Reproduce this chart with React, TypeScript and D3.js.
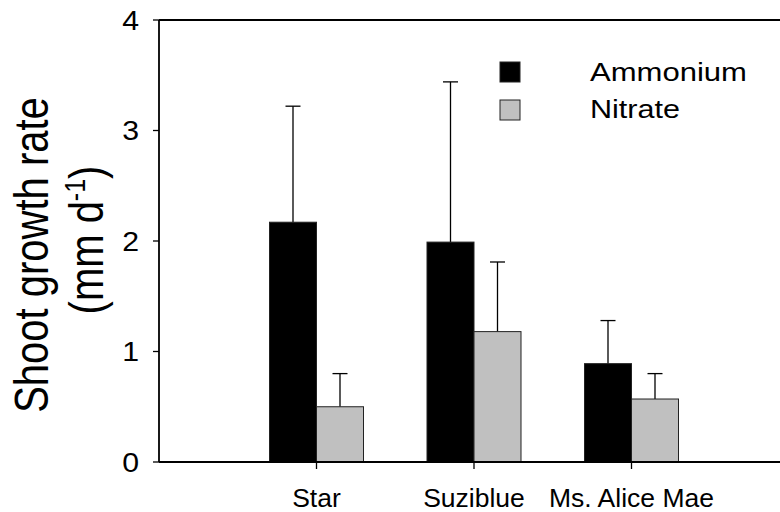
import React from 'react';
import * as d3 from 'd3';

// values
const cultivars = ['Star', 'Suziblue', 'Ms. Alice Mae'];
const ammonium = [2.17, 1.99, 0.89];
const ammoniumErr = [1.05, 1.45, 0.39];
const nitrate = [0.5, 1.18, 0.57];
const nitrateErr = [0.3, 0.63, 0.23];
const yTicks = [0, 1, 2, 3, 4];
const seriesNames = ['Ammonium', 'Nitrate'];
const seriesColors = ['#000000', '#c0c0c0'];

const W = 780;
const H = 512;
const FONT = "'Liberation Sans', Arial, sans-serif";

export default function App() {
  const y = d3.scaleLinear().domain([0, 4]).range([462, 20]);
  // category slots 1..3, slot 0 is the y axis
  const x = d3.scaleLinear().domain([0, 4]).range([159, 789]);
  const barW = 47;
  const capW = 15;

  const series = [
    { vals: ammonium, errs: ammoniumErr, off: -barW },
    { vals: nitrate, errs: nitrateErr, off: 0 },
  ];

  return (
    <svg width={W} height={H} style={{ position: 'absolute', left: 0, top: 0, background: '#fff' }} fontFamily={FONT}>
      {/* bars + error bars */}
      {series.map((s, si) =>
        cultivars.map((c, i) => {
          const cx = x(i + 1) + s.off;
          const top = y(s.vals[i]);
          const errTop = y(s.vals[i] + s.errs[i]);
          const mid = cx + barW / 2;
          return (
            <g key={c + si}>
              <line x1={mid} x2={mid} y1={top} y2={errTop} stroke="#000" strokeWidth={1.3} />
              <line x1={mid - capW / 2} x2={mid + capW / 2} y1={errTop} y2={errTop} stroke="#000" strokeWidth={1.3} />
              <rect x={cx} y={top} width={barW} height={y(0) - top} fill={seriesColors[si]} stroke="#222" strokeWidth={1} />
            </g>
          );
        })
      )}

      {/* frame */}
      <line x1={x(0)} x2={W} y1={y(4)} y2={y(4)} stroke="#000" strokeWidth={1.8} />
      <line x1={x(0)} x2={W} y1={y(0)} y2={y(0)} stroke="#000" strokeWidth={1.8} />
      <line x1={x(0)} x2={x(0)} y1={y(4)} y2={y(0)} stroke="#000" strokeWidth={1.8} />

      {/* y ticks */}
      {yTicks.map((t) => (
        <g key={t}>
          <line x1={x(0) - 6} x2={x(0)} y1={y(t)} y2={y(t)} stroke="#000" strokeWidth={1.3} />
          <text x={x(0) - 20} y={y(t) + 10} textAnchor="end" fontSize={28} fill="#000" transform={`translate(${x(0) - 20},0) scale(1.08,1) translate(${-(x(0) - 20)},0)`}>
            {t}
          </text>
        </g>
      ))}

      {/* x ticks and labels */}
      {cultivars.map((c, i) => (
        <g key={c}>
          <line x1={x(i + 1)} x2={x(i + 1)} y1={y(0)} y2={y(0) + 7} stroke="#000" strokeWidth={1.3} />
          <text x={x(i + 1)} y={507} textAnchor="middle" fontSize={26.5} fill="#000">
            {c}
          </text>
        </g>
      ))}

      {/* y axis title */}
      <text transform="translate(48,255) scale(1.2,1) rotate(-90)" textAnchor="middle" fontSize={40} fill="#000">
        Shoot growth rate
      </text>
      <text transform="translate(103,240) scale(1.2,1) rotate(-90)" textAnchor="middle" fontSize={40} fill="#000">
        (mm d<tspan fontSize={25} dy={-15}>-1</tspan>
        <tspan dy={15}>)</tspan>
      </text>

      {/* legend */}
      {seriesNames.map((n, i) => (
        <g key={n}>
          <rect x={500} y={62 + i * 38} width={20} height={20} fill={seriesColors[i]} stroke="#222" strokeWidth={1} />
          <text x={590} y={81 + i * 37} fontSize={26} fill="#000" textLength={i === 0 ? 157 : 90} lengthAdjust="spacingAndGlyphs">
            {n}
          </text>
        </g>
      ))}
    </svg>
  );
}
